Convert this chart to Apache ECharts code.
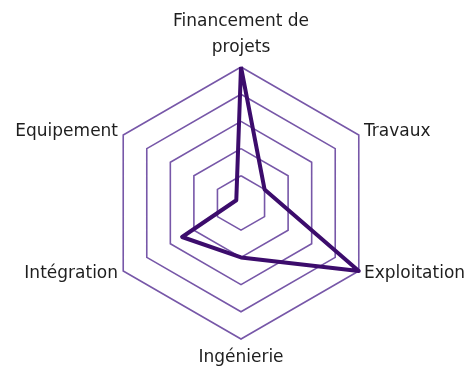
<!DOCTYPE html>
<html>
<head>
<meta charset="utf-8">
<script src="https://cdn.jsdelivr.net/npm/echarts@6/dist/echarts.min.js"></script>
<style>html,body{margin:0;padding:0;background:#fff;}#c{width:472px;height:374px;}</style>
</head>
<body>
<div id="c"></div>
<script>
// Indicators in counter-clockwise order starting from the top
const categories = ["Financement de\nprojets", "Equipement", "Intégration", "Ingénierie", "Exploitation", "Travaux"];
const values = [5, 0.2, 2.5, 2, 5, 1];
const maxValue = 5;

const chart = echarts.init(document.getElementById('c'));
chart.setOption({
  animation: false,
  radar: {
    center: [241, 203],
    radius: 136,
    startAngle: 90,
    splitNumber: 5,
    shape: 'polygon',
    nameGap: 6,
    indicator: categories.map(n => ({ name: n, min: 0, max: maxValue })),
    axisName: { color: '#1e1e1e', fontSize: 17, fontFamily: 'DejaVu Sans', lineHeight: 26 },
    splitLine: { lineStyle: { color: '#7757a8', width: 1.6 } },
    splitArea: { show: false },
    axisLine: { show: false },
    axisTick: { show: false },
    axisLabel: { show: false }
  },
  series: [{
    type: 'radar',
    symbol: 'none',
    lineStyle: { color: '#3c0c6c', width: 4 },
    data: [{ value: values }]
  }]
});
</script>
</body>
</html>
